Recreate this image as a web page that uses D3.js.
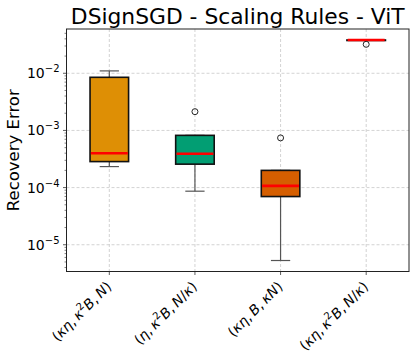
<!DOCTYPE html>
<html>
<head>
<meta charset="utf-8">
<script src="https://cdn.jsdelivr.net/npm/d3@7"></script>
<style>
  body { margin: 0; background: #fff; }
  text { font-family: "DejaVu Sans", sans-serif; fill: #000; }
</style>
</head>
<body>
<div id="chart"></div>
<script>
// values (log scale)
const categories = ["a", "b", "c", "d"];
const tickLabels = [
  [["(", false], ["κη", true], [",\u2009", false], ["κ", true], ["2", "sup"], ["B", true], [",\u2009", false], ["N", true], [")", false]],
  [["(", false], ["η", true], [",\u2009", false], ["κ", true], ["2", "sup"], ["B", true], [",\u2009", false], ["N", true], ["/", false], ["κ", true], [")", false]],
  [["(", false], ["κη", true], [",\u2009", false], ["B", true], [",\u2009", false], ["κN", true], [")", false]],
  [["(", false], ["κη", true], [",\u2009", false], ["κ", true], ["2", "sup"], ["B", true], [",\u2009", false], ["N", true], ["/", false], ["κ", true], [")", false]]
];
const q1 = [2.85e-4, 2.57e-4, 6.97e-5, 0.0382];
const median = [4.0e-4, 3.9e-4, 1.07e-4, 0.0382];
const q3 = [8.5e-3, 8.2e-4, 2.0e-4, 0.0382];
const whiskerLow = [2.33e-4, 8.65e-5, 5.3e-6, 0.0382];
const whiskerHigh = [0.011, 8.2e-4, 2.0e-4, 0.0382];
const outliers = [[], [2.13e-3], [7.4e-4], [0.0321]];
const boxColors = ["#DE8F05", "#029E73", "#D55E00", "#CC78BC"];
const yTicks = [-5, -4, -3, -2];

const W = 416, H = 361;
const MARGIN = {LEFT: 66.5, RIGHT: 7, TOP: 29, BOTTOM: 89.5};
const WIDTH = W - MARGIN.LEFT - MARGIN.RIGHT;
const HEIGHT = H - MARGIN.TOP - MARGIN.BOTTOM;

const svg = d3.select("#chart").append("svg")
  .attr("width", W).attr("height", H);
const g = svg.append("g")
  .attr("transform", `translate(${MARGIN.LEFT}, ${MARGIN.TOP})`);

const x = d3.scaleBand().domain(categories).range([0, WIDTH]).padding(0);
const xc = d => x(d) + x.bandwidth() / 2;
const y = d3.scaleLog().domain([Math.pow(10, -5.468), Math.pow(10, -1.2255)]).range([HEIGHT, 0]);
const boxW = x.bandwidth() * 0.45;

// grid
g.append("g").selectAll("line").data(yTicks).enter().append("line")
  .attr("x1", 0).attr("x2", WIDTH)
  .attr("y1", d => y(Math.pow(10, d))).attr("y2", d => y(Math.pow(10, d)))
  .attr("stroke", "#c8c8c8").attr("stroke-width", 0.8).attr("stroke-dasharray", "3,2");
g.append("g").selectAll("line").data(categories).enter().append("line")
  .attr("x1", xc).attr("x2", xc).attr("y1", 0).attr("y2", HEIGHT)
  .attr("stroke", "#c8c8c8").attr("stroke-width", 0.8).attr("stroke-dasharray", "3,2");

// boxes
const boxes = g.append("g").selectAll("g").data(categories).enter().append("g");
boxes.append("line") // lower whisker
  .attr("x1", xc).attr("x2", xc)
  .attr("y1", (d, i) => y(q1[i])).attr("y2", (d, i) => y(whiskerLow[i]))
  .attr("stroke", "#555").attr("stroke-width", 1.2);
boxes.append("line") // upper whisker
  .attr("x1", xc).attr("x2", xc)
  .attr("y1", (d, i) => y(q3[i])).attr("y2", (d, i) => y(whiskerHigh[i]))
  .attr("stroke", "#555").attr("stroke-width", 1.2);
[whiskerLow, whiskerHigh].forEach(arr => {
  boxes.append("line")
    .attr("x1", d => xc(d) - boxW / 4).attr("x2", d => xc(d) + boxW / 4)
    .attr("y1", (d, i) => y(arr[i])).attr("y2", (d, i) => y(arr[i]))
    .attr("stroke", "#555").attr("stroke-width", 1.2);
});
boxes.append("rect")
  .attr("x", d => xc(d) - boxW / 2).attr("width", boxW)
  .attr("y", (d, i) => y(q3[i]))
  .attr("height", (d, i) => Math.max(0.5, y(q1[i]) - y(q3[i])))
  .attr("fill", (d, i) => boxColors[i])
  .attr("stroke", "#111").attr("stroke-width", 1.6);
boxes.append("line")
  .attr("x1", d => xc(d) - boxW / 2 + 0.8).attr("x2", d => xc(d) + boxW / 2 - 0.8)
  .attr("y1", (d, i) => y(median[i])).attr("y2", (d, i) => y(median[i]))
  .attr("stroke", "#ff0000").attr("stroke-width", 2.6);
boxes.each(function (d, i) {
  d3.select(this).selectAll("circle").data(outliers[i]).enter().append("circle")
    .attr("cx", xc(d)).attr("cy", v => y(v)).attr("r", 3)
    .attr("fill", "none").attr("stroke", "#222").attr("stroke-width", 1);
});

// y axis with minor ticks
const minor = [];
for (let e = -6; e <= -1; e++) for (let m = 2; m <= 9; m++) {
  const v = m * Math.pow(10, e);
  if (v >= y.domain()[0] && v <= y.domain()[1]) minor.push(v);
}
g.append("g").selectAll("line").data(minor).enter().append("line")
  .attr("x1", -2).attr("x2", 0).attr("y1", d => y(d)).attr("y2", d => y(d))
  .attr("stroke", "#333").attr("stroke-width", 0.6);
g.append("g").selectAll("line").data(yTicks).enter().append("line")
  .attr("x1", -3.5).attr("x2", 0)
  .attr("y1", d => y(Math.pow(10, d))).attr("y2", d => y(Math.pow(10, d)))
  .attr("stroke", "#333").attr("stroke-width", 0.8);
const yl = g.append("g").selectAll("text").data(yTicks).enter().append("text")
  .attr("x", -7).attr("y", d => y(Math.pow(10, d)) + 5)
  .attr("text-anchor", "end").style("font-size", "14px");
yl.append("tspan").text("10");
yl.append("tspan").attr("dy", -6).style("font-size", "10px").text(d => "\u2212" + (-d));

// x ticks
g.append("g").selectAll("line").data(categories).enter().append("line")
  .attr("x1", xc).attr("x2", xc).attr("y1", HEIGHT).attr("y2", HEIGHT + 3.5)
  .attr("stroke", "#333").attr("stroke-width", 0.8);
const xl = g.append("g").selectAll("text").data(categories).enter().append("text")
  .attr("transform", d => `translate(${xc(d) + 3}, ${HEIGHT + 16}) rotate(-45)`)
  .attr("text-anchor", "end").style("font-size", "14px");
xl.each(function (d, i) {
  const t = d3.select(this);
  let up = false;
  tickLabels[i].forEach(([s, f]) => {
    const sp = t.append("tspan").text(s);
    if (f === "sup") { sp.attr("dy", -6).style("font-size", "10px"); up = true; }
    else {
      if (up) { sp.attr("dy", 6); up = false; }
      if (f) sp.style("font-style", "italic");
    }
  });
});

// spines
g.append("rect").attr("x", 0).attr("y", 0).attr("width", WIDTH).attr("height", HEIGHT)
  .attr("fill", "none").attr("stroke", "#222").attr("stroke-width", 1);

// title & y label
svg.append("text").attr("x", MARGIN.LEFT + WIDTH / 2).attr("y", 24)
  .attr("text-anchor", "middle").style("font-size", "21.8px")
  .text("DSignSGD - Scaling Rules - ViT");
svg.append("text").attr("transform", `translate(18.5, ${MARGIN.TOP + HEIGHT / 2}) rotate(-90)`)
  .attr("text-anchor", "middle").style("font-size", "16.5px")
  .text("Recovery Error");
</script>
</body>
</html>
